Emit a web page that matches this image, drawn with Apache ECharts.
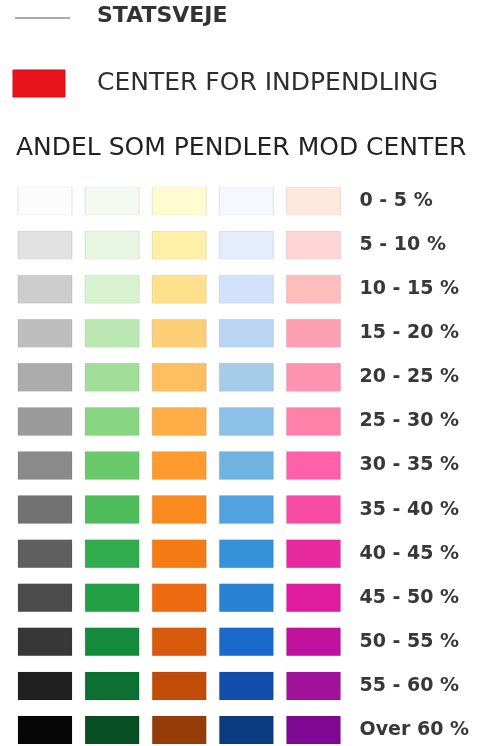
<!DOCTYPE html>
<html>
<head>
<meta charset="utf-8">
<script src="https://cdn.jsdelivr.net/npm/echarts@6/dist/echarts.min.js"></script>
<style>
  html, body { margin: 0; padding: 0; background: #fff; }
  #main { width: 480px; height: 746px; }
</style>
</head>
<body>
<div id="main"></div>
<script>
// intervaller (rækker) og farveskalaer (kolonner)
const classes = ['0 - 5 %', '5 - 10 %', '10 - 15 %', '15 - 20 %', '20 - 25 %', '25 - 30 %',
  '30 - 35 %', '35 - 40 %', '40 - 45 %', '45 - 50 %', '50 - 55 %', '55 - 60 %', 'Over 60 %'];
const ramps = ['grå', 'grøn', 'orange', 'blå', 'pink'];

const grey = ['#fcfcfc', '#e2e2e2', '#cdcdcd', '#bebebe', '#acacac', '#9b9b9b', '#8a8a8a',
  '#727272', '#5f5f5f', '#4b4b4b', '#373737', '#202020', '#060606'];
const green = ['#f4f9f1', '#e8f7e2', '#d8f3d0', '#bbe8b2', '#a2de99', '#88d581', '#6ac96a',
  '#4ebc5a', '#30ab4e', '#23a046', '#148a3c', '#0b7032', '#074f22'];
const orange = ['#fffcd0', '#fff0a8', '#ffe08c', '#ffcf78', '#ffbf5e', '#ffad46', '#ff9b2e',
  '#fa8a1e', '#f57b14', '#ee6a10', '#d85a0c', '#c04c08', '#963c08'];
const blue = ['#f5f8ff', '#e3edfc', '#d1e3fa', '#bad5f3', '#a5cdea', '#8dc2e8', '#6fb3e2',
  '#50a3de', '#3692d8', '#2a82d4', '#1a6acc', '#124eaa', '#0c3a80'];
const pink = ['#ffe8dd', '#ffd5d5', '#ffbdbd', '#ffa0b2', '#ff93b2', '#ff81aa', '#ff60a8',
  '#f84ba6', '#e8289e', '#e01c9e', '#c0129e', '#a0129a', '#7e0892'];

const colourSets = [grey, green, orange, blue, pink];

const cells = [];
colourSets.forEach((set, c) => {
  set.forEach((col, r) => {
    cells.push({ value: [c, r], itemStyle: { color: col } });
  });
});

const chart = echarts.init(document.getElementById('main'));

const textFont = '"DejaVu Sans", sans-serif';

chart.setOption({
  backgroundColor: '#ffffff',
  animation: false,
  graphic: [
    { type: 'line', shape: { x1: 15, y1: 18, x2: 70, y2: 18 }, style: { stroke: '#a8acac', lineWidth: 2 } },
    { type: 'text', left: 97, top: 5, style: { text: 'STATSVEJE', font: 'bold 22px ' + textFont, fill: '#333333' } },
    { type: 'rect', shape: { x: 13, y: 70, width: 52, height: 27 }, style: { fill: '#e8141c', stroke: '#d01018', lineWidth: 1 } },
    { type: 'text', left: 97, top: 71, style: { text: 'CENTER FOR INDPENDLING', font: '25px ' + textFont, fill: '#2e2e2e' } },
    { type: 'text', left: 16, top: 136, style: { text: 'ANDEL SOM PENDLER MOD CENTER', font: '25px ' + textFont, fill: '#222222' } }
  ],
  grid: { left: 45, right: 480 - 313.5, top: 201, bottom: 746 - 730 },
  xAxis: {
    type: 'category',
    data: ramps,
    boundaryGap: false,
    axisLine: { show: false },
    axisTick: { show: false },
    axisLabel: { show: false },
    splitLine: { show: false }
  },
  yAxis: {
    type: 'category',
    data: classes,
    inverse: true,
    position: 'right',
    boundaryGap: false,
    axisLine: { show: false },
    axisTick: { show: false },
    splitLine: { show: false },
    axisLabel: {
      margin: 46,
      fontFamily: textFont,
      fontWeight: 'bold',
      fontSize: 19,
      color: '#383838'
    }
  },
  series: [{
    type: 'scatter',
    symbol: 'rect',
    symbolSize: [54, 28],
    data: cells,
    itemStyle: { opacity: 1, borderColor: 'rgba(0,0,0,0.08)', borderWidth: 1 }
  }]
});
</script>
</body>
</html>
